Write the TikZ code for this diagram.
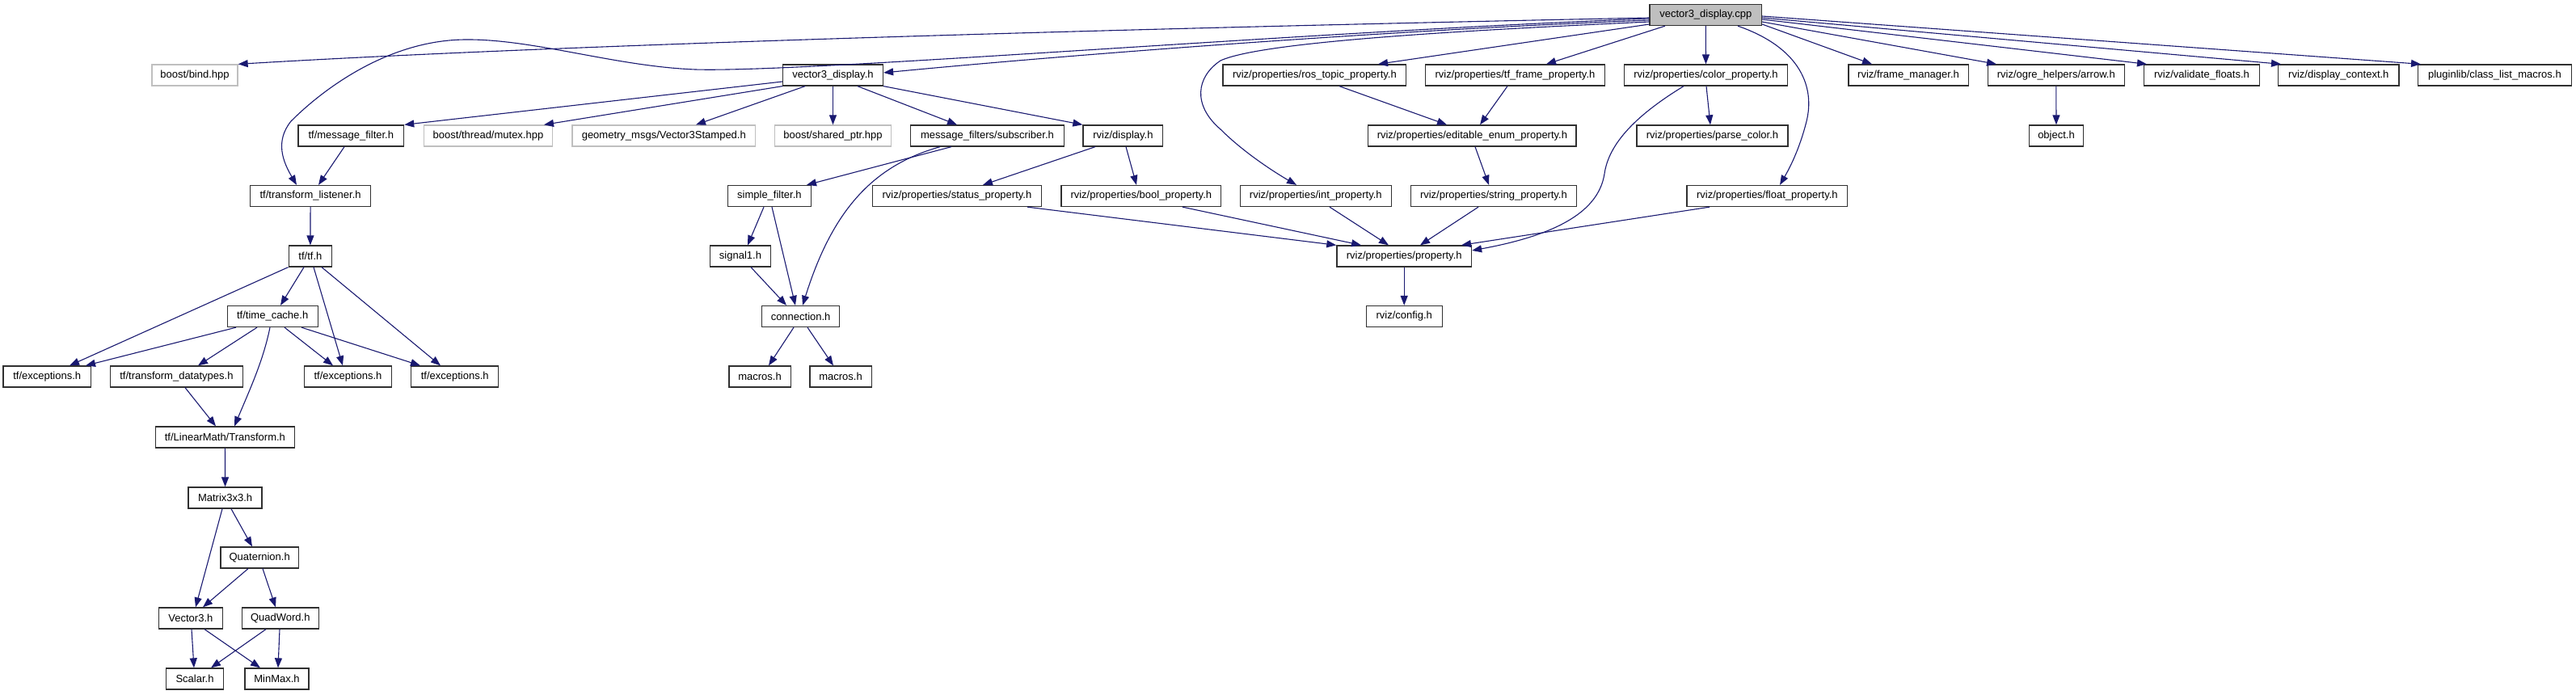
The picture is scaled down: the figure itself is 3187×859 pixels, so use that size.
\documentclass[tikz,border=0pt]{standalone}
\usepackage{fontspec}
\setmainfont{Liberation Sans}
\usetikzlibrary{arrows.meta,calc}
\definecolor{edgecol}{HTML}{191970}
\definecolor{rootfill}{HTML}{BFBFBF}
\definecolor{lightborder}{HTML}{BFBFBF}
\definecolor{darkborder}{HTML}{303030}
\begin{document}
\begin{tikzpicture}[x=1pt,y=-1pt,
  hb/.style={rectangle,draw=darkborder,line width=1.3pt,minimum height=26pt,inner sep=0pt,
    font=\fontsize{13}{15}\selectfont,text=black},
  gb/.style={hb,draw=lightborder},
  dep/.style={draw=edgecol,line width=1.1pt,-{Triangle[length=12pt,width=9pt]}}]
\useasboundingbox (0,0) rectangle (3187,859);
% row 0
\node[hb,fill=rootfill,minimum width=138.4pt] (cpp) at (2110.3,18.5) {vector3\_display.cpp};
% row 1
\node[gb,minimum width=106pt] (bind) at (241,93) {boost/bind.hpp};
\node[hb,minimum width=124pt] (v3h) at (1030.5,93) {vector3\_display.h};
\node[hb,minimum width=226.6pt] (ros) at (1626.4,93) {rviz/properties/ros\_topic\_property.h};
\node[hb,minimum width=221.6pt] (tff) at (1874.5,93) {rviz/properties/tf\_frame\_property.h};
\node[hb,minimum width=201.4pt] (col) at (2110.5,93) {rviz/properties/color\_property.h};
\node[hb,minimum width=148.3pt] (fm) at (2361,93) {rviz/frame\_manager.h};
\node[hb,minimum width=168.7pt] (arr) at (2543.8,93) {rviz/ogre\_helpers/arrow.h};
\node[hb,minimum width=143pt] (vf) at (2724,93) {rviz/validate\_floats.h};
\node[hb,minimum width=149.5pt] (dc) at (2893.3,93) {rviz/display\_context.h};
\node[hb,minimum width=190pt] (clm) at (3086.4,93) {pluginlib/class\_list\_macros.h};
% row 2
\node[hb,minimum width=130.6pt] (mf) at (434.3,168) {tf/message\_filter.h};
\node[gb,minimum width=159.2pt] (mutex) at (604,168) {boost/thread/mutex.hpp};
\node[gb,minimum width=226.9pt] (geo) at (821.3,168) {geometry\_msgs/Vector3Stamped.h};
\node[gb,minimum width=144.1pt] (sp) at (1030.5,168) {boost/shared\_ptr.hpp};
\node[hb,minimum width=189.7pt] (mfs) at (1221.5,168) {message\_filters/subscriber.h};
\node[hb,minimum width=98.8pt] (disp) at (1389.4,168) {rviz/display.h};
\node[hb,minimum width=257.3pt] (ee) at (1821.4,168) {rviz/properties/editable\_enum\_property.h};
\node[hb,minimum width=187pt] (pc) at (2118.5,168) {rviz/properties/parse\_color.h};
\node[hb,minimum width=67.6pt] (obj) at (2544,168) {object.h};
% row 3
\node[hb,minimum width=149.4pt] (tl) at (384.1,242.5) {tf/transform\_listener.h};
\node[hb,minimum width=102.9pt] (sf) at (951.9,242.5) {simple\_filter.h};
\node[hb,minimum width=209.4pt] (stp) at (1183.9,242.5) {rviz/properties/status\_property.h};
\node[hb,minimum width=197.6pt] (bp) at (1411.8,242.5) {rviz/properties/bool\_property.h};
\node[hb,minimum width=187pt] (ip) at (1627.8,242.5) {rviz/properties/int\_property.h};
\node[hb,minimum width=205pt] (strp) at (1847.9,242.5) {rviz/properties/string\_property.h};
\node[hb,minimum width=198.7pt] (fp) at (2186.4,242.5) {rviz/properties/float\_property.h};
% row 4
\node[hb,minimum width=53.4pt] (tftf) at (383.9,317) {tf/tf.h};
\node[hb,minimum width=74.7pt] (sig) at (916,317) {signal1.h};
\node[hb,minimum width=166.6pt] (prop) at (1737.2,317) {rviz/properties/property.h};
% row 5
\node[hb,minimum width=111.9pt] (tc) at (337.2,391.5) {tf/time\_cache.h};
\node[hb,minimum width=96.3pt] (conn) at (990.6,391.5) {connection.h};
\node[hb,minimum width=93.9pt] (cfg) at (1737.2,391.5) {rviz/config.h};
% row 6
\node[hb,minimum width=108.2pt] (ex1) at (58.2,466) {tf/exceptions.h};
\node[hb,minimum width=164.1pt] (td) at (218.4,466) {tf/transform\_datatypes.h};
\node[hb,minimum width=108.2pt] (ex2) at (430.5,466) {tf/exceptions.h};
\node[hb,minimum width=108.2pt] (ex3) at (562.7,466) {tf/exceptions.h};
\node[hb,minimum width=76.3pt] (mac1) at (940,466) {macros.h};
\node[hb,minimum width=76.3pt] (mac2) at (1040,466) {macros.h};
% rows 7-11
\node[hb,minimum width=172.2pt] (tr) at (278.4,541) {tf/LinearMath/Transform.h};
\node[hb,minimum width=91pt] (m33) at (278.6,616) {Matrix3x3.h};
\node[hb,minimum width=96.3pt] (quat) at (321.2,690) {Quaternion.h};
\node[hb,minimum width=79.2pt] (v3) at (235.9,765) {Vector3.h};
\node[hb,minimum width=95.1pt] (qw) at (346.8,765) {QuadWord.h};
\node[hb,minimum width=71.5pt] (sc) at (241,840) {Scalar.h};
\node[hb,minimum width=79.1pt] (mm) at (342.5,840) {MinMax.h};

% edges from cpp
\draw[dep] (cpp.west |- 0,22) .. controls (1400,35) and (700,55) .. (bind.north east);
\draw[dep] (cpp.west |- 0,23) .. controls (1600,40) and (1000,90) .. (860,86)
  .. controls (760,82) and (660,48) .. (575,49)
  .. controls (480,50) and (400,110) .. (360,150)
  .. controls (340,175) and (350,200) .. (tl.north -| 367,0);
\draw[dep] (cpp.west |- 0,25) .. controls (1700,38) and (1300,70) .. (v3h.east |- 0,90);
\draw[dep] (cpp.west |- 0,27) .. controls (1800,38) and (1560,52) .. (1510,75)
  .. controls (1480,95) and (1475,130) .. (1510,160)
  .. controls (1540,190) and (1580,215) .. (ip.north -| 1604,0);
\draw[dep] (cpp.west |- 0,30) -- (ros.north -| 1705,0);
\draw[dep] (cpp.south -| 2060,0) -- (tff.north -| 1913,0);
\draw[dep] (cpp) -- (col);
\draw[dep] (cpp.south -| 2150,0) .. controls (2230,60) and (2245,110) .. (2235,150)
  .. controls (2225,190) and (2210,215) .. (fp.north -| 2202,0);
\draw[dep] (cpp.east |- 0,30) -- (fm.north -| 2316,0);
\draw[dep] (cpp.east |- 0,27) -- (arr.north -| 2470,0);
\draw[dep] (cpp.east |- 0,24) -- (vf.north -| 2656,0);
\draw[dep] (cpp.east |- 0,22) -- (dc.north -| 2822,0);
\draw[dep] (cpp.east |- 0,20) -- (clm.north -| 2995,0);
% vector3_display.h
\draw[dep] (v3h.west |- 0,101) -- (mf.north east);
\draw[dep] (v3h.south west) -- (mutex.north -| 673,0);
\draw[dep] (v3h.south -| 996,0) -- (geo.north -| 861,0);
\draw[dep] (v3h) -- (sp);
\draw[dep] (v3h.south -| 1061,0) -- (mfs.north -| 1184,0);
\draw[dep] (v3h.south east) -- (disp.north west);
% subscriber, display
\draw[dep] (mfs.south -| 1177,0) -- (sf.north -| 998,0);
\draw[dep] (mfs.south -| 1163,0) .. controls (1080,205) and (1030,260) .. (conn.north -| 993,0);
\draw[dep] (disp.south -| 1355,0) -- (stp.north -| 1216,0);
\draw[dep] (disp.south -| 1393,0) -- (bp.north -| 1406,0);
\draw[dep] (sf.south -| 945,0) -- (sig.north -| 925,0);
\draw[dep] (sf.south -| 955,0) -- (conn.north -| 984,0);
\draw[dep] (sig.south -| 929,0) -- (conn.north -| 973,0);
\draw[dep] (conn.south -| 982,0) -- (mac1.north -| 951,0);
\draw[dep] (conn.south -| 999,0) -- (mac2.north -| 1031,0);
% properties
\draw[dep] (stp.south -| 1271,0) -- (prop.north west);
\draw[dep] (bp.south -| 1463,0) -- (prop.north -| 1684,0);
\draw[dep] (ip.south -| 1645,0) -- (prop.north -| 1718,0);
\draw[dep] (strp.south -| 1829,0) -- (prop.north -| 1757,0);
\draw[dep] (fp.south -| 2115,0) -- (prop.north -| 1808,0);
\draw[dep] (col.south -| 2083,0) .. controls (2020,145) and (1990,180) .. (1985,215)
  .. controls (1978,260) and (1930,290) .. (prop.east |- 0,310);
\draw[dep] (col.south -| 2111,0) -- (pc.north -| 2116,0);
\draw[dep] (ros.south -| 1657,0) -- (ee.north -| 1790,0);
\draw[dep] (tff.south -| 1865,0) -- (ee.north -| 1831,0);
\draw[dep] (ee.south -| 1825,0) -- (strp.north -| 1842,0);
\draw[dep] (prop) -- (cfg);
\draw[dep] (arr) -- (obj);
% tf
\draw[dep] (mf.south -| 426,0) -- (tl.north -| 394,0);
\draw[dep] (tl) -- (tftf);
\draw[dep] (tftf.south west) -- (ex1.north -| 86,0);
\draw[dep] (tftf.south -| 376,0) -- (tc.north -| 347,0);
\draw[dep] (tftf.south -| 388,0) -- (ex2.north -| 424,0);
\draw[dep] (tftf.south -| 398,0) -- (ex3.north -| 545,0);
\draw[dep] (tc.south -| 292,0) -- (ex1.north -| 106,0);
\draw[dep] (tc.south -| 318,0) -- (td.north -| 245,0);
\draw[dep] (tc.south -| 334,0) .. controls (326,445) and (310,480) .. (tr.north -| 290,0);
\draw[dep] (tc.south -| 352,0) -- (ex2.north -| 412,0);
\draw[dep] (tc.south -| 373,0) -- (ex3.north -| 520,0);
\draw[dep] (td.south -| 229,0) -- (tr.north -| 267,0);
\draw[dep] (tr) -- (m33);
\draw[dep] (m33.south -| 275,0) -- (v3.north -| 242,0);
\draw[dep] (m33.south -| 286,0) -- (quat.north -| 312,0);
\draw[dep] (quat.south -| 307,0) -- (v3.north -| 251,0);
\draw[dep] (quat.south -| 325,0) -- (qw.north -| 341,0);
\draw[dep] (v3.south -| 237,0) -- (sc.north -| 240,0);
\draw[dep] (v3.south -| 253,0) -- (mm.north -| 322,0);
\draw[dep] (qw.south -| 329,0) -- (sc.north -| 261,0);
\draw[dep] (qw.south -| 346,0) -- (mm.north -| 344,0);
\end{tikzpicture}
\end{document}
